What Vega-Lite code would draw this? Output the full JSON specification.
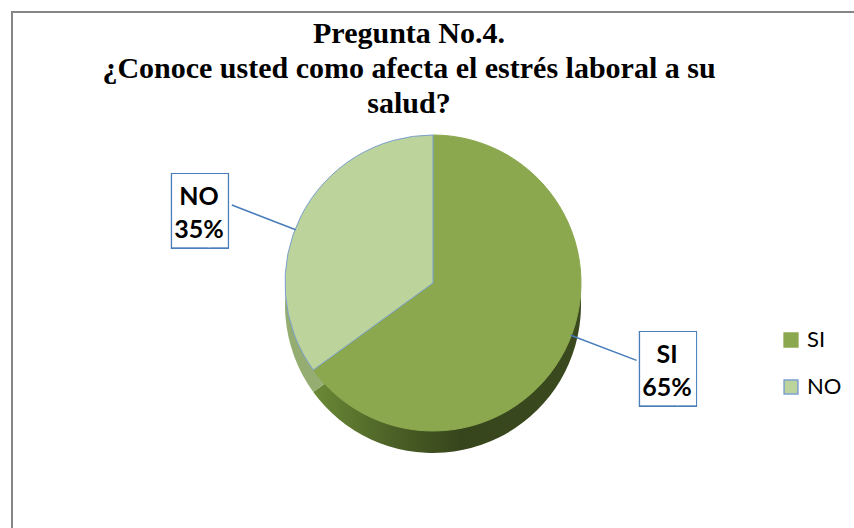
{
  "$schema": "https://vega.github.io/schema/vega-lite/v6.json",
  "width": 842,
  "height": 516,
  "autosize": {"type": "none"},
  "padding": {"left": 12, "top": 12, "right": 0, "bottom": 0},
  "background": "white",
  "config": {"view": {"stroke": null}},
  "title": {
    "text": ["Pregunta No.4.", "¿Conoce usted como afecta el estrés laboral a su", "salud?"],
    "font": "Liberation Serif",
    "fontSize": 30,
    "fontWeight": "bold",
    "color": "#000000",
    "lineHeight": 35,
    "anchor": "middle",
    "frame": "group",
    "orient": "top",
    "baseline": "top",
    "offset": -108,
    "dx": -24
  },
  "data": {
    "values": [
      {"respuesta": "SI", "porcentaje": 0.65},
      {"respuesta": "NO", "porcentaje": 0.35}
    ]
  },
  "layer": [
    {
      "data": {"values": [{}]},
      "mark": {"type": "rect", "fill": null, "stroke": "#868686", "strokeWidth": 2, "strokeDash": [842, 1358, 520, 10]},
      "encoding": {}
    },
    {
      "mark": {"type": "arc", "outerRadius": 148, "yOffset": 35},
      "encoding": {
        "theta": {"field": "porcentaje", "type": "quantitative", "stack": true},
        "order": {"field": "respuesta", "sort": "descending"},
        "detail": {"field": "respuesta", "type": "nominal"},
        "fill": {
          "condition": {
            "test": "datum.respuesta === 'SI'",
            "value": {
              "gradient": "linear", "x1": 0, "x2": 1, "y1": 0, "y2": 0,
              "stops": [
                {"offset": 0, "color": "#6B8A36"},
                {"offset": 0.3, "color": "#4B6026"},
                {"offset": 0.55, "color": "#37451C"},
                {"offset": 1, "color": "#3A4A1E"}
              ]
            }
          },
          "value": "#95AD70"
        }
      }
    },
    {
      "mark": {"type": "arc", "outerRadius": 148, "strokeWidth": 1, "yOffset": 13},
      "encoding": {
        "theta": {"field": "porcentaje", "type": "quantitative", "stack": true},
        "order": {"field": "respuesta", "sort": "descending"},
        "fill": {
          "field": "respuesta", "type": "nominal",
          "scale": {"domain": ["SI", "NO"], "range": ["#8BA84F", "#BDD39C"]},
          "legend": {
            "orient": "none", "legendX": 768, "legendY": 317, "title": null,
            "symbolType": "square", "symbolSize": 190, "symbolStrokeWidth": 1.5,
            "labelFontSize": 22, "labelFont": "Lato", "labelColor": "#000000",
            "rowPadding": 25, "labelOffset": 5, "padding": 0
          }
        },
        "stroke": {
          "field": "respuesta", "type": "nominal",
          "scale": {"domain": ["SI", "NO"], "range": ["#8BA84F", "#7BA0CE"]},
          "legend": {
            "orient": "none", "legendX": 768, "legendY": 317, "title": null,
            "symbolType": "square", "symbolSize": 190, "symbolStrokeWidth": 1.5,
            "labelFontSize": 22, "labelFont": "Lato", "labelColor": "#000000",
            "rowPadding": 25, "labelOffset": 5, "padding": 0
          }
        }
      }
    },
    {
      "transform": [
        {"stack": "porcentaje", "groupby": [], "sort": [{"field": "respuesta", "order": "descending"}], "as": ["inicio", "fin"]},
        {"filter": "datum.respuesta === 'NO'"}
      ],
      "mark": {"type": "arc", "innerRadius": 148, "outerRadius": 215, "thetaOffset": 0.998, "theta2Offset": -1.201, "yOffset": 13, "fill": null, "stroke": "#4A7EBB", "strokeWidth": 1.5},
      "encoding": {
        "theta": {"field": "inicio", "type": "quantitative"},
        "theta2": {"field": "fin"}
      }
    },
    {
      "transform": [
        {"stack": "porcentaje", "groupby": [], "sort": [{"field": "respuesta", "order": "descending"}], "as": ["inicio", "fin"]},
        {"filter": "datum.respuesta === 'SI'"}
      ],
      "mark": {"type": "arc", "innerRadius": 148, "outerRadius": 217, "thetaOffset": 1.934, "theta2Offset": -2.15, "yOffset": 13, "fill": null, "stroke": "#4A7EBB", "strokeWidth": 1.5},
      "encoding": {
        "theta": {"field": "inicio", "type": "quantitative"},
        "theta2": {"field": "fin"}
      }
    },
    {
      "mark": {"type": "text", "text": "█▌", "font": "DejaVu Sans Mono", "fontSize": 64, "radius": 247, "thetaOffset": -0.146, "align": "center", "baseline": "middle", "dx": 11, "dy": 23, "color": "#4A7EBB"},
      "encoding": {
        "theta": {"field": "porcentaje", "type": "quantitative", "stack": true},
        "order": {"field": "respuesta", "sort": "descending"},
        "detail": {"field": "respuesta", "type": "nominal"}
      }
    },
    {
      "mark": {"type": "text", "text": "█▌", "font": "DejaVu Sans Mono", "fontSize": 61.5, "radius": 247, "thetaOffset": -0.146, "align": "center", "baseline": "middle", "dx": 10.6, "dy": 23, "color": "#FFFFFF"},
      "encoding": {
        "theta": {"field": "porcentaje", "type": "quantitative", "stack": true},
        "order": {"field": "respuesta", "sort": "descending"},
        "detail": {"field": "respuesta", "type": "nominal"}
      }
    },
    {
      "mark": {"type": "text", "font": "Lato", "fontSize": 25, "fontWeight": "bold", "radius": 247, "thetaOffset": -0.146, "align": "center", "baseline": "alphabetic", "dy": 14, "color": "#000000"},
      "encoding": {
        "theta": {"field": "porcentaje", "type": "quantitative", "stack": true},
        "order": {"field": "respuesta", "sort": "descending"},
        "detail": {"field": "respuesta", "type": "nominal"},
        "text": {"field": "respuesta", "type": "nominal"}
      }
    },
    {
      "mark": {"type": "text", "font": "Lato", "fontSize": 25, "fontWeight": "bold", "radius": 247, "thetaOffset": -0.146, "align": "center", "baseline": "alphabetic", "dy": 47, "color": "#000000"},
      "encoding": {
        "theta": {"field": "porcentaje", "type": "quantitative", "stack": true},
        "order": {"field": "respuesta", "sort": "descending"},
        "detail": {"field": "respuesta", "type": "nominal"},
        "text": {"field": "porcentaje", "type": "quantitative", "format": ".0%"}
      }
    }
  ]
}
